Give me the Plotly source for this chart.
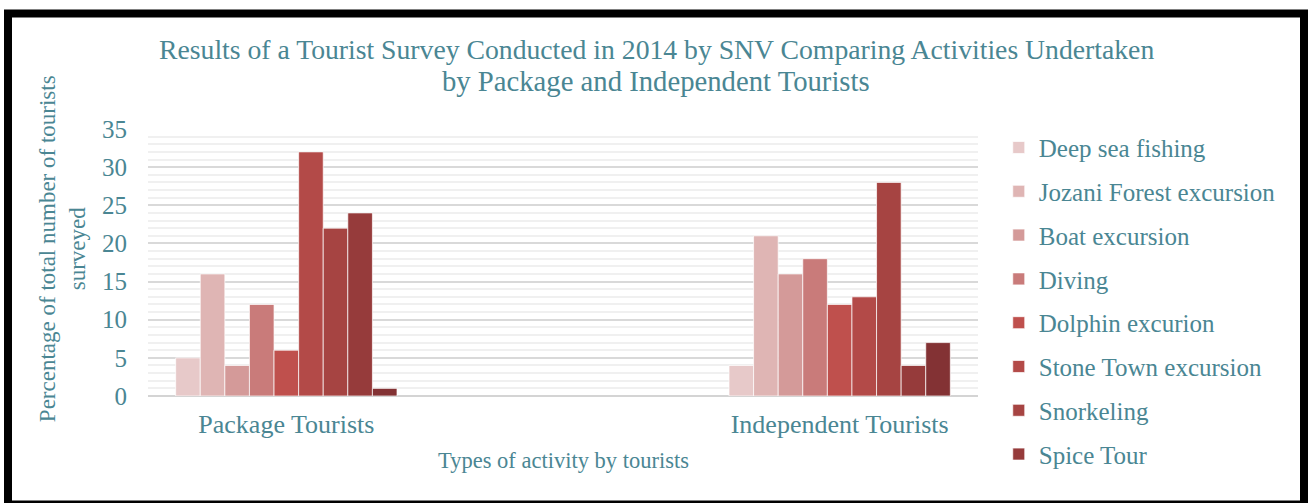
import plotly.graph_objects as go

categories = ["Package Tourists", "Independent Tourists"]
activities = ["Deep sea fishing", "Jozani Forest excursion", "Boat excursion", "Diving",
              "Dolphin excurion", "Stone Town excursion", "Snorkeling", "Spice Tour", "Other"]
package_vals = [5, 16, 4, 12, 6, 32, 22, 24, 1]
independent_vals = [4, 21, 16, 18, 12, 13, 28, 4, 7]
colors = ["#E7C9C9", "#DFB5B4", "#D49A99", "#C97B7A", "#BF504D", "#B34A48",
          "#A64442", "#963B3B", "#833234"]
title_lines = ["Results of a Tourist Survey Conducted in 2014 by SNV Comparing Activities Undertaken",
               "by Package and Independent Tourists"]

FONT = "Liberation Serif"
TEAL = "#4A8693"

fig = go.Figure()
for i, name in enumerate(activities):
    fig.add_trace(go.Bar(
        x=categories, y=[package_vals[i], independent_vals[i]], name=name,
        marker=dict(color=colors[i], line=dict(color="rgba(255,255,255,0.7)", width=1)),
        legendgroup=name, showlegend=(name != "Other"),
    ))

fig.update_layout(
    width=1308, height=503,
    margin=dict(l=148, r=330, t=129, b=107),
    paper_bgcolor="white", plot_bgcolor="white",
    barmode="group", bargap=0.6, bargroupgap=0,
    font=dict(family=FONT, color=TEAL),
    xaxis=dict(range=[-0.25, 1.25], showgrid=False, showline=False, ticks="",
               tickfont=dict(size=26, color=TEAL), ticklabelstandoff=10),
    yaxis=dict(range=[0, 35], dtick=5, showgrid=True, gridcolor="#D9D9D9", gridwidth=1.5,
               minor=dict(dtick=1, showgrid=True, gridcolor="#F0F0F0", gridwidth=1.5),
               zeroline=True, zerolinecolor="#D4D4D4", zerolinewidth=2, showline=False,
               ticks="", tickfont=dict(size=25, color=TEAL), ticklabelstandoff=20),
    legend=dict(x=1.025, xanchor="left", y=1.016, yanchor="top", traceorder="grouped",
                tracegroupgap=8.3, maxheight=440, font=dict(size=25, color=TEAL),
                bgcolor="rgba(0,0,0,0)"),
    showlegend=True,
)

for line, yc, sz in zip(title_lines, [50, 81], [27.7, 28.7]):
    fig.add_annotation(text=line, xref="paper", yref="paper", x=(656 - 148) / 830,
                       y=(396 - yc) / 267, xanchor="center", yanchor="middle", showarrow=False,
                       font=dict(size=sz, color=TEAL, family=FONT))
fig.add_annotation(text="Percentage of total number of tourists<br>surveyed", textangle=-90,
                   xref="paper", yref="paper", x=-0.1036, y=0.55, xanchor="center", yanchor="middle",
                   showarrow=False, font=dict(size=23, color=TEAL, family=FONT))
fig.add_annotation(text="Types of activity by tourists", xref="paper", yref="paper",
                   x=0.5, y=-0.24, xanchor="center", yanchor="middle",
                   showarrow=False, font=dict(size=22.5, color=TEAL, family=FONT))

fig.add_shape(type="rect", xref="paper", yref="paper",
              x0=(8 - 148) / 830, x1=(1304 - 148) / 830,
              y0=(396 - 504.5) / 267, y1=(396 - 13.5) / 267,
              line=dict(color="black", width=8), fillcolor="rgba(0,0,0,0)", layer="above")

fig.write_html("out.html")
